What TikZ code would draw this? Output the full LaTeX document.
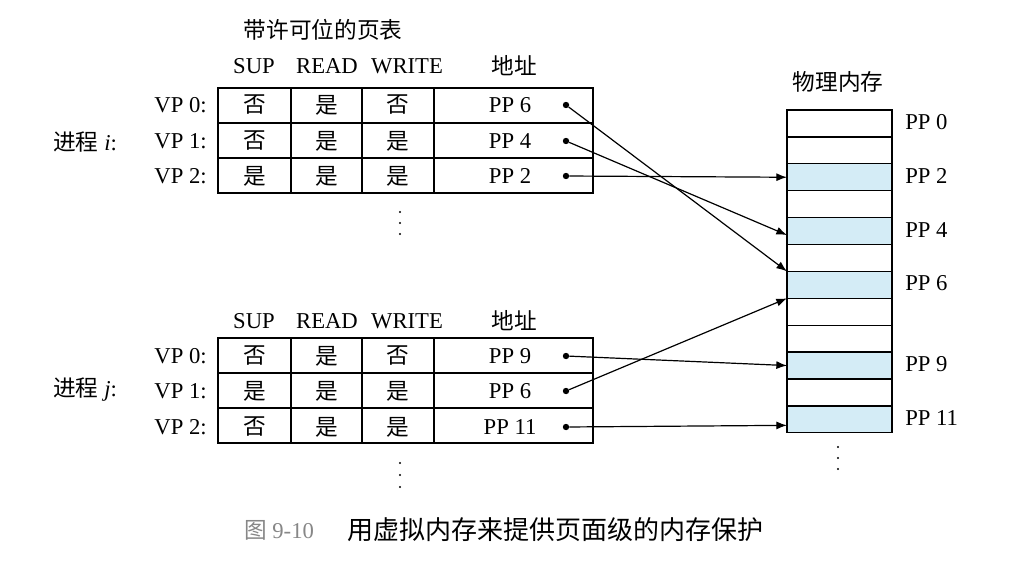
\documentclass[tikz,border=0pt]{standalone}
\usepackage{fontspec}
\setmainfont{Liberation Serif}
\newfontfamily\cjk{Noto Sans CJK SC}
\usetikzlibrary{arrows.meta}
\definecolor{memblue}{RGB}{212,236,246}
\definecolor{capgray}{RGB}{135,135,135}

\tikzset{
  txt/.style={inner sep=0.75pt, font=\fontsize{17}{20}\selectfont},
  grid/.style={line width=1pt},
  memcell/.style={draw, line width=1pt, minimum width=78.75pt, minimum height=20.2pt, inner sep=0pt, outer sep=0pt},
  ptr/.style={circle, fill, inner sep=0pt, minimum size=4.8pt},
  link/.style={-{Latex[length=8pt,width=6pt]}, line width=0.9pt}
}

\begin{document}
\begin{tikzpicture}[x=0.75pt,y=0.75pt,yscale=-1,xscale=1]
\useasboundingbox (0,0) rectangle (1023,567);

% Table of process i
\draw[grid] (218,88) rectangle (593,193);
\draw[grid] (218,123) -- (593,123) (218,158) -- (593,158);
\draw[grid] (291,88) -- (291,193) (362,88) -- (362,193) (434,88) -- (434,193);

% Table of process j
\draw[grid] (218,338) rectangle (593,443);
\draw[grid] (218,373) -- (593,373) (218,408) -- (593,408);
\draw[grid] (291,338) -- (291,443) (362,338) -- (362,443) (434,338) -- (434,443);

% Titles and headers
\node[txt] (titlei) at (323,30) {\cjk 带许可位的页表};
\node[txt] (supi) at (254,66) {SUP};
\node[txt] (readi) at (327,66) {READ};
\node[txt] (writei) at (407,66) {WRITE};
\node[txt] (addri) at (514,66) {\cjk 地址};
\node[txt] (supj) at (254,321) {SUP};
\node[txt] (readj) at (327,321) {READ};
\node[txt] (writej) at (407,321) {WRITE};
\node[txt] (addrj) at (514,321) {\cjk 地址};

% Process labels
\node[txt, anchor=west] (proci) at (52,142) {{\cjk 进程} \textit{i}:};
\node[txt, anchor=west] (procj) at (52,390) {{\cjk 进程} \textit{j}:};

% Rows of process i
\foreach \r/\y/\s/\rd/\w/\pp in {0/105/否/是/否/6, 1/141/否/是/是/4, 2/176/是/是/是/2}{
  \node[txt, anchor=east] (vpi\r) at (208,\y) {VP \r:};
  \node[txt] (supi\r) at (254.5,\y) {\cjk \s};
  \node[txt] (readi\r) at (326.5,\y) {\cjk \rd};
  \node[txt] (writei\r) at (398,\y) {\cjk \w};
  \node[txt] (ppi\r) at (510,\y) {PP \pp};
  \node[ptr] (pi\r) at (566,\y) {};
}

% Rows of process j
\foreach \r/\y/\s/\rd/\w/\pp in {0/356/否/是/否/9, 1/391/是/是/是/6, 2/427/否/是/是/11}{
  \node[txt, anchor=east] (vpj\r) at (208,\y) {VP \r:};
  \node[txt] (supj\r) at (254.5,\y) {\cjk \s};
  \node[txt] (readj\r) at (326.5,\y) {\cjk \rd};
  \node[txt] (writej\r) at (398,\y) {\cjk \w};
  \node[txt] (ppj\r) at (510,\y) {PP \pp};
  \node[ptr] (pj\r) at (566,\y) {};
}

% Physical memory
\node[txt] (memtitle) at (838,82) {\cjk 物理内存};
\foreach \k/\c in {0/white,1/white,2/memblue,3/white,4/memblue,5/white,6/memblue,7/white,8/white,9/memblue,10/white,11/memblue}{
  \node[memcell, fill=\c] (m\k) at (839.5,{123.45+26.9*\k}) {};
}
\foreach \k in {0,2,4,6,9,11}{
  \node[txt, anchor=west] (lm\k) at ([xshift=9pt,yshift=-1pt]m\k.east) {PP \k};
}

% Vertical dots
\foreach \y in {212,223,234} \fill (400,\y) circle (1.2);
\foreach \y in {463,475,487} \fill (400,\y) circle (1.2);
\foreach \y in {447,458,469} \fill (838,\y) circle (1.2);

% Pointers
\draw[link] (pi0) -- (m6.north west);
\draw[link] (pi1) -- ([yshift=3pt]m4.west);
\draw[link] (pi2) -- (m2.west);
\draw[link] (pj0) -- (m9.west);
\draw[link] (pj1) -- (m6.south west);
\draw[link] (pj2) -- ([yshift=4.5pt]m11.west);

% Caption
\node[txt, text=capgray] (capnum) at (279,530) {{\cjk 图} 9-10};
\node[txt, anchor=west, font=\fontsize{19.5}{22}\selectfont] (captext) at (346,530) {\cjk 用虚拟内存来提供页面级的内存保护};

\end{tikzpicture}
\end{document}
